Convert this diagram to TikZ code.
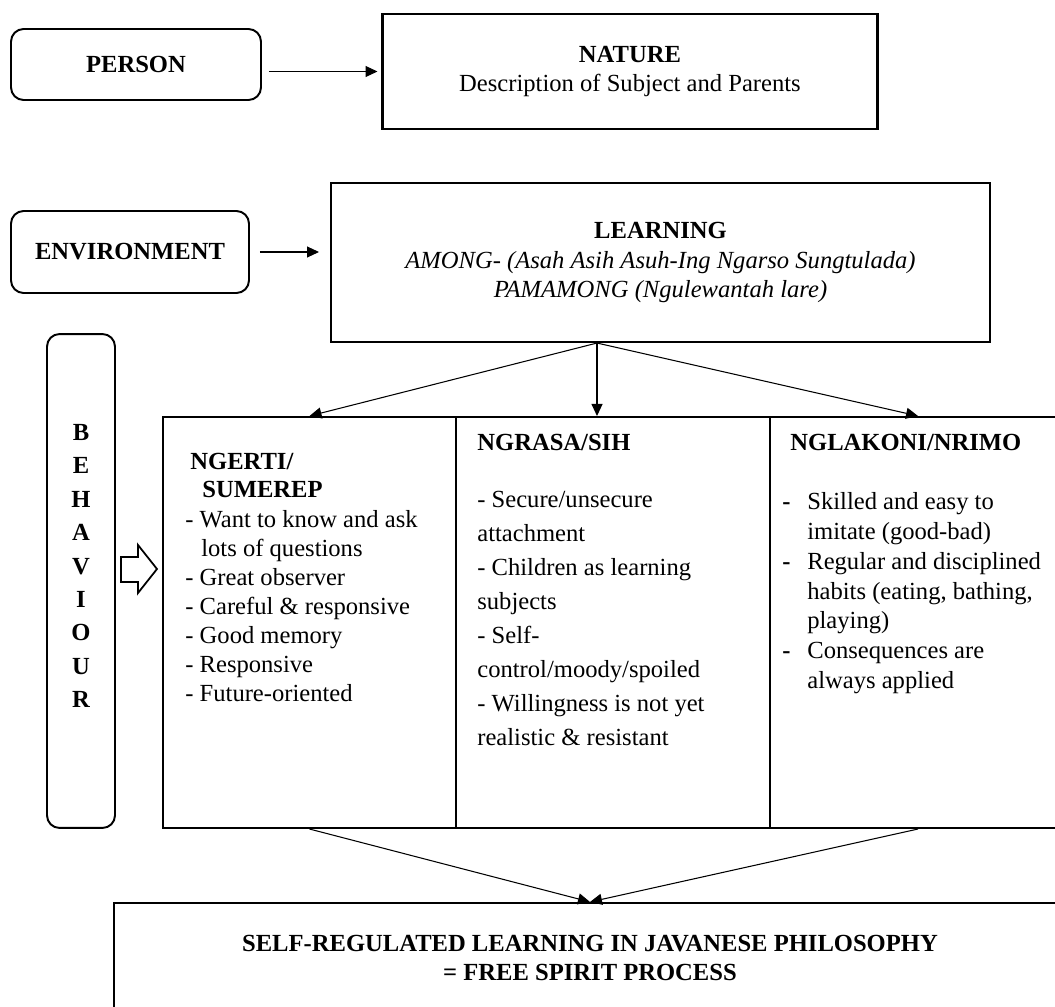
\documentclass[tikz,border=0pt]{standalone}
\usepackage{fontspec}
\setmainfont{Liberation Serif}
\usetikzlibrary{arrows.meta,positioning}

\begin{document}
\begin{tikzpicture}[x=0.02cm,y=-0.02cm,
  roundbox/.style={draw, line width=1.1pt, rounded corners=0.25cm, inner sep=0pt, align=center},
  squarebox/.style={draw, line width=1.2pt, inner sep=0pt, align=center},
  bodytxt/.style={inner sep=0pt, anchor=north west, align=left},
  conn/.style={-{Triangle[length=2.4mm,width=2.2mm]}, line width=0.6pt}]
\useasboundingbox (0,0) rectangle (1055,1007);
\clip (0,0) rectangle (1055,1007);

% top row
\node[roundbox, minimum width=5cm, minimum height=1.42cm, font=\fontsize{14}{16}\selectfont\bfseries] (person) at (136,64.5) {PERSON};
\node[squarebox, minimum width=9.9cm, minimum height=2.3cm, font=\fontsize{14}{16.5}\selectfont] (nature) at (630,71.5) {\textbf{NATURE}\\Description of Subject and Parents};
\node[roundbox, minimum width=4.76cm, minimum height=1.64cm, font=\fontsize{14}{16}\selectfont\bfseries] (env) at (130,252) {ENVIRONMENT};
\node[squarebox, minimum width=13.18cm, minimum height=3.18cm, font=\fontsize{14}{17}\selectfont] (learn) at (660.5,262.5) {\textbf{LEARNING}\\\textit{AMONG- (Asah Asih Asuh-Ing Ngarso Sungtulada)}\\\textit{PAMAMONG (Ngulewantah lare)}};

% behaviour column
\node[roundbox, minimum width=1.36cm, minimum height=9.88cm] (behav) at (81,581) {};
\node[inner sep=0pt, align=center, font=\fontsize{14}{19}\selectfont\bfseries] (behavtxt) at (81,566) {B\\E\\H\\A\\V\\I\\O\\U\\R};
\draw[line width=1pt, line join=miter] (121,557) -- (138,557) -- (138,545) -- (157,569) -- (138,593) -- (138,582) -- (121,582) -- cycle;

% three columns
\node[squarebox, minimum width=5.86cm, minimum height=8.22cm] (col1) at (309.5,622.5) {};
\node[squarebox, minimum width=6.28cm, minimum height=8.22cm] (col2) at (613,622.5) {};
\node[squarebox, minimum width=5.92cm, minimum height=8.22cm] (col3) at (918,622.5) {};

\node[bodytxt, font=\fontsize{14}{15.9}\selectfont\bfseries] (ngerti) at (190,453) {NGERTI/\\\hspace*{0.24cm}SUMEREP};
\node[bodytxt, font=\fontsize{14}{16.5}\selectfont] (ngertilist) at (185,510) {- Want to know and ask\\\hspace*{0.32cm}lots of questions\\- Great observer\\- Careful \& responsive\\- Good memory\\- Responsive\\- Future-oriented};

\node[bodytxt, font=\fontsize{14}{16}\selectfont\bfseries] (ngrasa) at (477,434) {NGRASA/SIH};
\node[bodytxt, font=\fontsize{14}{19.35}\selectfont] (ngrasalist) at (477,491) {- Secure/unsecure\\attachment\\- Children as learning\\subjects\\- Self-\\control/moody/spoiled\\- Willingness is not yet\\realistic \& resistant};

\node[bodytxt, font=\fontsize{14}{16}\selectfont\bfseries] (nglakoni) at (790,434) {NGLAKONI/NRIMO};
\node[bodytxt, font=\fontsize{14}{17}\selectfont] (nglakonilist) at (782,492) {\makebox[0.5cm][l]{\textbf{-}}Skilled and easy to\\\hspace*{0.5cm}imitate (good-bad)\\\makebox[0.5cm][l]{\textbf{-}}Regular and disciplined\\\hspace*{0.5cm}habits (eating, bathing,\\\hspace*{0.5cm}playing)\\\makebox[0.5cm][l]{\textbf{-}}Consequences are\\\hspace*{0.5cm}always applied};

% result
\node[squarebox, minimum width=19.04cm, minimum height=2.2cm, font=\fontsize{14}{17}\selectfont\bfseries] (final) at (590,958) {SELF-REGULATED LEARNING IN JAVANESE PHILOSOPHY\\= FREE SPIRIT PROCESS};

% connectors
\draw[conn, shorten <=0.14cm, shorten >=0.08cm] (person.east |- nature.west) -- (nature.west);
\draw[conn, shorten <=0.2cm, shorten >=0.22cm] (env.east) -- (env.east -| learn.west);
\coordinate (fork) at ([xshift=-1.27cm]learn.south);
\draw[conn] (fork) -- (col1.north);
\draw[conn] (fork) -- (fork |- col2.north);
\draw[conn] (fork) -- (col3.north);
\draw[conn] (col1.south) -- (final.north);
\draw[conn] (col3.south) -- (final.north);
\end{tikzpicture}
\end{document}
